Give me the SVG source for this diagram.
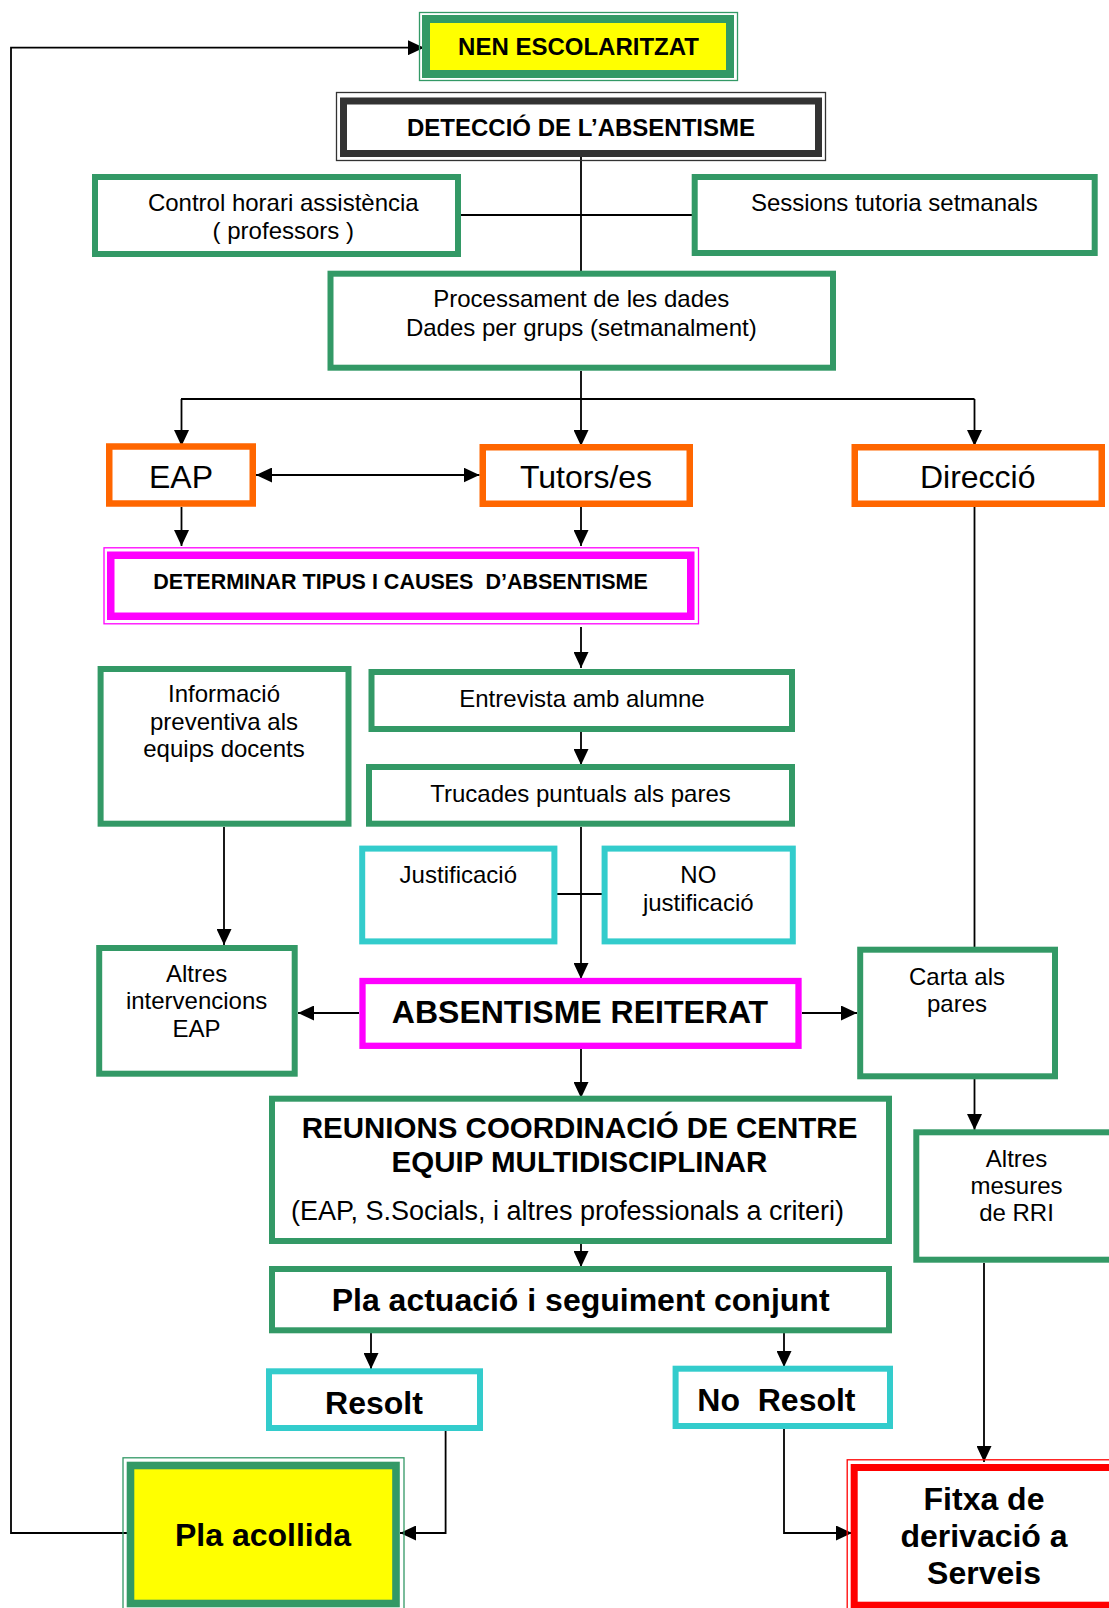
<svg xmlns="http://www.w3.org/2000/svg" width="1109" height="1608" viewBox="0 0 1109 1608">
<style>
text{font-family:"Liberation Sans",Arial,sans-serif;fill:#000;text-anchor:middle}
.r{font-size:24px}
.b{font-weight:bold}
.big{font-size:32px}
.g{fill:#fff;stroke:#339966;stroke-width:6}
.o{fill:#fff;stroke:#FF6600;stroke-width:6.5}
.c{fill:#fff;stroke:#33CCCC;stroke-width:6}
.m{fill:#fff;stroke:#FF00FF;stroke-width:6.3}
.ln{fill:none;stroke:#000;stroke-width:1.8}
.ar{fill:none;stroke:#000;stroke-width:1.8;marker-end:url(#ah)}
</style>
<defs>
<marker id="ah" markerUnits="userSpaceOnUse" markerWidth="16" markerHeight="15" refX="16" refY="7.5" orient="auto-start-reverse" viewBox="0 0 16 15">
<path d="M0,0 L16,7.5 L0,15 Z" fill="#000"/>
</marker>
</defs>
<rect width="1109" height="1608" fill="#fff"/>

<g id="connectors">
<line class="ln" x1="581" y1="157" x2="581" y2="271"/>
<line class="ln" x1="461" y1="215" x2="692" y2="215"/>
<line class="ln" x1="581" y1="371" x2="581" y2="399"/>
<line class="ln" x1="181" y1="399" x2="974.5" y2="399"/>
<line class="ar" x1="181.5" y1="399" x2="181.5" y2="446"/>
<line class="ar" x1="581" y1="399" x2="581" y2="446"/>
<line class="ar" x1="974.5" y1="399" x2="974.5" y2="446"/>
<line class="ar" x1="256" y1="475" x2="479.5" y2="475" style="marker-start:url(#ah)"/>
<line class="ar" x1="181.5" y1="507" x2="181.5" y2="546"/>
<line class="ar" x1="581" y1="507" x2="581" y2="546"/>
<line class="ln" x1="974.5" y1="507" x2="974.5" y2="947"/>
<line class="ar" x1="581" y1="627" x2="581" y2="668"/>
<line class="ar" x1="581" y1="732" x2="581" y2="765"/>
<line class="ar" x1="224" y1="827" x2="224" y2="945"/>
<line class="ar" x1="581" y1="827" x2="581" y2="979"/>
<line class="ln" x1="557" y1="894" x2="602" y2="894"/>
<line class="ar" x1="359" y1="1013" x2="298" y2="1013"/>
<line class="ar" x1="802" y1="1013" x2="857" y2="1013"/>
<line class="ar" x1="581" y1="1049" x2="581" y2="1098"/>
<line class="ar" x1="974.5" y1="1079" x2="974.5" y2="1130"/>
<line class="ar" x1="581" y1="1244" x2="581" y2="1267"/>
<line class="ar" x1="371" y1="1333" x2="371" y2="1369"/>
<line class="ar" x1="784" y1="1333" x2="784" y2="1367"/>
<polyline class="ar" points="445.6,1431 445.6,1533 400,1533"/>
<polyline class="ar" points="784,1429 784,1533 852,1533"/>
<line class="ar" x1="984" y1="1263" x2="984" y2="1462"/>
<polyline class="ar" points="128,1533 11,1533 11,47.7 424,47.7"/>
</g>

<g id="nen-escolaritzat">
<rect x="419.5" y="12.5" width="318" height="68" fill="none" stroke="#339966" stroke-width="1.3"/>
<rect x="426" y="19" width="304" height="55" fill="#FFFF00" stroke="#339966" stroke-width="8"/>
<text class="r b" x="578.5" y="54.5">NEN ESCOLARITZAT</text>
</g>

<g id="deteccio">
<rect x="336.5" y="92.5" width="489" height="68" fill="none" stroke="#333" stroke-width="1.3"/>
<rect x="343.5" y="101" width="475" height="52.5" fill="#fff" stroke="#333" stroke-width="7"/>
<text class="r b" x="581" y="135.7">DETECCIÓ DE L’ABSENTISME</text>
</g>

<g id="control-horari">
<rect class="g" x="95" y="177" width="363" height="77"/>
<text class="r" x="283.3" y="211">Control horari assistència</text>
<text class="r" x="283.3" y="238.5">( professors )</text>
</g>

<g id="sessions">
<rect class="g" x="694.7" y="177" width="400" height="76"/>
<text class="r" x="894.3" y="211">Sessions tutoria setmanals</text>
</g>

<g id="processament">
<rect class="g" x="330.5" y="273.7" width="502.5" height="94"/>
<text class="r" x="581.3" y="307.3">Processament de les dades</text>
<text class="r" x="581.3" y="335.7">Dades per grups (setmanalment)</text>
</g>

<g id="eap">
<rect class="o" x="109.25" y="446.5" width="143.5" height="57"/>
<text class="big" x="181" y="488">EAP</text>
</g>

<g id="tutors">
<rect class="o" x="482.75" y="447.25" width="207" height="56.5"/>
<text class="big" x="586" y="488">Tutors/es</text>
</g>

<g id="direccio">
<rect class="o" x="854.75" y="447.25" width="247" height="56.5"/>
<text class="big" x="977.7" y="488">Direcció</text>
</g>

<g id="determinar">
<rect x="104" y="547.8" width="594.5" height="76" fill="none" stroke="#FF00FF" stroke-width="1.3"/>
<rect x="110.75" y="555.25" width="580" height="61" fill="#fff" stroke="#FF00FF" stroke-width="7.5"/>
<text class="b" x="400.6" y="588.5" style="font-size:21.5px;white-space:pre">DETERMINAR TIPUS I CAUSES  D’ABSENTISME</text>
</g>

<g id="informacio">
<rect class="g" x="100.6" y="669" width="247.9" height="154.7"/>
<text class="r" x="224" y="702">Informació</text>
<text class="r" x="224" y="730">preventiva als</text>
<text class="r" x="224" y="757">equips docents</text>
</g>

<g id="entrevista">
<rect class="g" x="371.5" y="672" width="420.5" height="57"/>
<text class="r" x="582" y="706.5">Entrevista amb alumne</text>
</g>

<g id="trucades">
<rect class="g" x="369" y="767" width="423" height="56.7"/>
<text class="r" x="580.5" y="802">Trucades puntuals als pares</text>
</g>

<g id="justificacio">
<rect class="c" x="362.2" y="848.6" width="192.2" height="92.8"/>
<text class="r" x="458.3" y="883.3">Justificació</text>
</g>

<g id="no-justificacio">
<rect class="c" x="604.6" y="848.6" width="188.2" height="92.8"/>
<text class="r" x="698.3" y="883.3">NO</text>
<text class="r" x="698.3" y="910.5">justificació</text>
</g>

<g id="altres-intervencions">
<rect class="g" x="99.2" y="948" width="195.5" height="125.7"/>
<text class="r" x="196.6" y="981.7">Altres</text>
<text class="r" x="196.6" y="1009">intervencions</text>
<text class="r" x="196.6" y="1037">EAP</text>
</g>

<g id="absentisme-reiterat">
<rect class="m" x="362.5" y="981" width="436" height="64.8"/>
<text class="big b" x="580" y="1023.3">ABSENTISME REITERAT</text>
</g>

<g id="carta">
<rect class="g" x="860.2" y="949.7" width="194.8" height="126.6"/>
<text class="r" x="957" y="984.5">Carta als</text>
<text class="r" x="957" y="1011.5">pares</text>
</g>

<g id="reunions">
<rect class="g" x="272" y="1098.7" width="617" height="142.3"/>
<text class="b" x="579.5" y="1137.5" style="font-size:29.5px">REUNIONS COORDINACIÓ DE CENTRE</text>
<text class="b" x="579.5" y="1171.5" style="font-size:29.5px">EQUIP MULTIDISCIPLINAR</text>
<text x="567.5" y="1219.5" style="font-size:27px">(EAP, S.Socials, i altres professionals a criteri)</text>
</g>

<g id="altres-mesures">
<rect class="g" x="916.3" y="1132.3" width="220" height="127.4"/>
<text class="r" x="1016.5" y="1167">Altres</text>
<text class="r" x="1016.5" y="1193.5">mesures</text>
<text class="r" x="1016.5" y="1221">de RRI</text>
</g>

<g id="pla-actuacio">
<rect class="g" x="272" y="1269" width="617" height="61.3"/>
<text class="big b" x="580.6" y="1310.5">Pla actuació i seguiment conjunt</text>
</g>

<g id="resolt">
<rect class="c" x="269" y="1371.3" width="211" height="56.7"/>
<text class="big b" x="374" y="1413.5">Resolt</text>
</g>

<g id="no-resolt">
<rect class="c" x="675.6" y="1368.7" width="214.4" height="57.3"/>
<text class="big b" x="776.4" y="1411" style="white-space:pre">No  Resolt</text>
</g>

<g id="pla-acollida">
<rect x="123" y="1457.8" width="281" height="160" fill="none" stroke="#339966" stroke-width="1.3"/>
<rect x="130.5" y="1465.5" width="265.5" height="138" fill="#FFFF00" stroke="#339966" stroke-width="7.6"/>
<text class="big b" x="263" y="1545.5">Pla acollida</text>
</g>

<g id="fitxa-derivacio">
<rect x="847.2" y="1459.8" width="300" height="160" fill="none" stroke="#FF0000" stroke-width="1.3"/>
<rect x="854.2" y="1467.5" width="290" height="137.7" fill="#fff" stroke="#FF0000" stroke-width="7"/>
<text class="big b" x="984" y="1510">Fitxa de</text>
<text class="big b" x="984" y="1547">derivació a</text>
<text class="big b" x="984" y="1584">Serveis</text>
</g>
</svg>
